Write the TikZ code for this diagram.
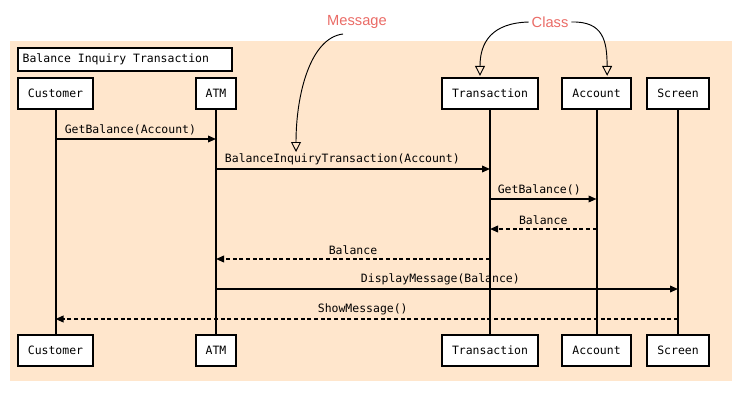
\documentclass[tikz,border=0pt]{standalone}
\usepackage{fontspec}
\setmonofont{DejaVu Sans Mono}
\newfontfamily\notefont{Liberation Sans}
\usetikzlibrary{arrows.meta}
\definecolor{mypeach}{HTML}{FFE6CC}
\definecolor{myred}{HTML}{EA6B66}
\tikzset{
	objnode/.style={
			draw=black,
			line width=1.5pt,
			fill=white,
			minimum height=23pt,
			inner xsep=7.5pt,
			inner ysep=0pt,
			font=\ttfamily\fontsize{8.6}{10}\selectfont
		},
	titlebox/.style={
			objnode,
			minimum height=17pt,
			inner xsep=3.5pt
		},
	lifeline/.style={
			line width=1.5pt
		},
	msgcall/.style={
			line width=1.1pt,
			-{Triangle[length=6pt,width=5pt]}
		},
	msgreturn/.style={
			msgcall,
			dash pattern=on 3pt off 2pt
		},
	msglabel/.style={
			above,
			inner sep=2.5pt,
			font=\ttfamily\fontsize{8.6}{10}\selectfont
		},
	notetext/.style={
			text=myred,
			inner sep=2pt,
			font=\notefont\fontsize{11}{13}\selectfont
		},
	notearrow/.style={
			line width=0.7pt,
			-{Triangle[open,length=7.5pt,width=7.5pt]}
		}
}

\begin{document}
\begin{tikzpicture}[x=0.75pt, y=-0.75pt]
\useasboundingbox (0,0) rectangle (745,400);
\fill[mypeach] (10,41) rectangle (732,381);

\node[titlebox, anchor=west] (title) at (17,59.5) {\makebox[153.5pt][l]{Balance Inquiry Transaction}};

% objects on top
\node[objnode] (customer) at (55.5,93.5) {Customer};
\node[objnode] (atm) at (216,93.5) {ATM};
\node[objnode] (transaction) at (490,93.5) {Transaction};
\node[objnode] (account) at (596.5,93.5) {Account};
\node[objnode] (screen) at (678,93.5) {Screen};

% objects at the bottom
\node[objnode] (customerB) at (55.5,350.5) {Customer};
\node[objnode] (atmB) at (216,350.5) {ATM};
\node[objnode] (transactionB) at (490,350.5) {Transaction};
\node[objnode] (accountB) at (596.5,350.5) {Account};
\node[objnode] (screenB) at (678,350.5) {Screen};

\draw[lifeline] (customer) -- (customerB);
\draw[lifeline] (atm) -- (atmB);
\draw[lifeline] (transaction) -- (transactionB);
\draw[lifeline] (account) -- (accountB);
\draw[lifeline] (screen) -- (screenB);

% messages
\draw[msgcall] (customer |- 0,139) -- node[msglabel, xshift=-4pt] {GetBalance(Account)} (atm |- 0,139);
\draw[msgcall] (atm |- 0,169) -- node[msglabel, xshift=-8pt] {BalanceInquiryTransaction(Account)} (transaction |- 0,169);
\draw[msgcall] (transaction |- 0,199) -- node[msglabel, xshift=-3pt] {GetBalance()} (account |- 0,199);
\draw[msgreturn] (account |- 0,229) -- node[msglabel] {Balance} (transaction |- 0,229);
\draw[msgreturn] (transaction |- 0,259) -- node[msglabel] {Balance} (atm |- 0,259);
\draw[msgcall] (atm |- 0,289) -- node[msglabel, xshift=-5pt] {DisplayMessage(Balance)} (screen |- 0,289);
\draw[msgreturn] (screen |- 0,319) -- node[msglabel, xshift=-3pt] {ShowMessage()} (customer |- 0,319);

% notes
\node[notetext] (msgnote) at (357,22) {Message};
\coordinate (msgstart) at (343,34);
\coordinate (msgtip) at (296,152);
\draw[notearrow] (msgstart) .. controls (310,38) and (296,95) .. (msgtip);

\node[notetext] (classnote) at (550,22) {Class};
\draw[notearrow] (classnote.west) .. controls (492,23) and (480,42) .. ([xshift=-7.5pt, yshift=1pt]transaction.north);
\draw[notearrow] (classnote.east) .. controls (604,21) and (607,42) .. ([xshift=8pt, yshift=1pt]account.north);

\end{tikzpicture}
\end{document}
